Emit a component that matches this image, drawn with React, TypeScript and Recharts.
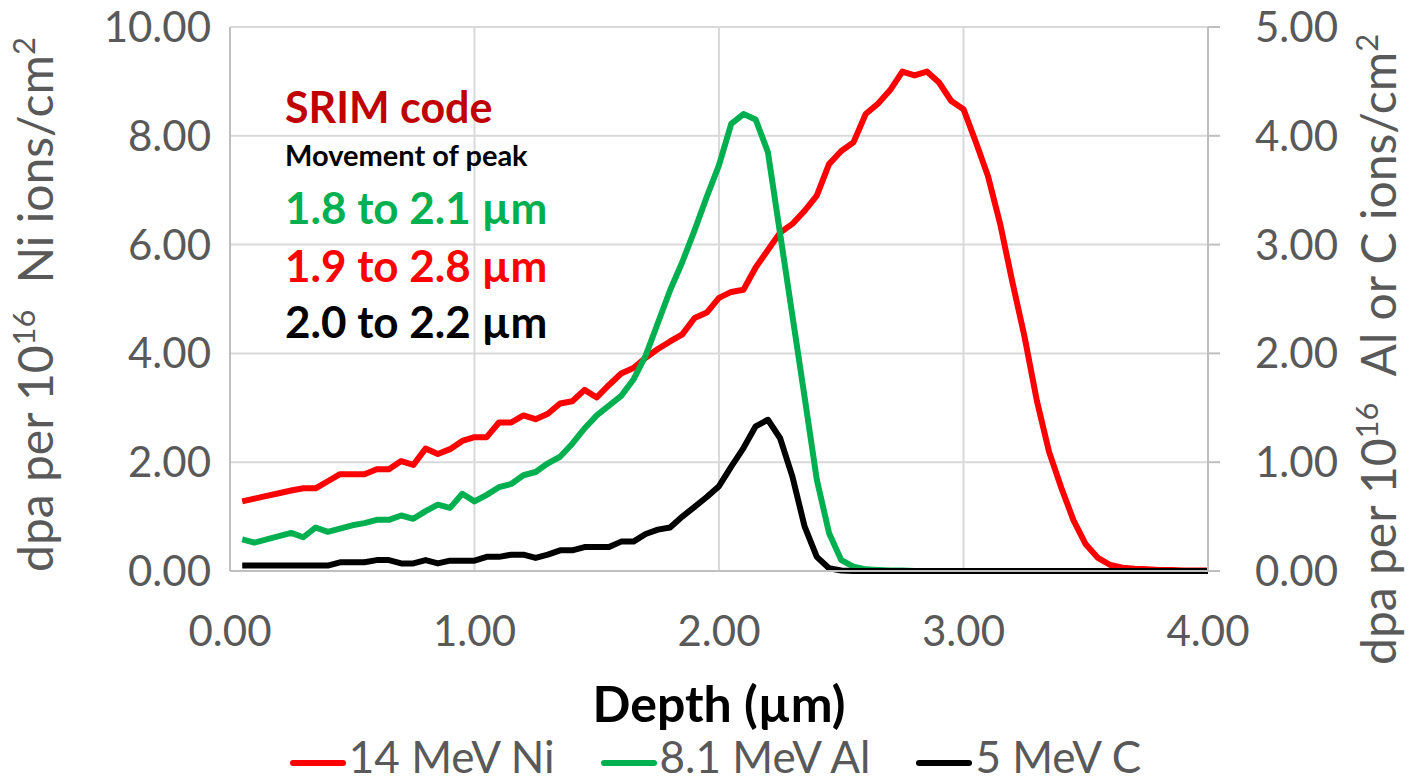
import React from 'react';
import { LineChart, Line, XAxis, YAxis, CartesianGrid } from 'recharts';

const FONT = 'Lato, "Open Sans", sans-serif';
const GREY = '#595959';

// depth in µm, one point every 0.05 µm
const depth = [
  0.05, 0.1, 0.15, 0.2, 0.25, 0.3, 0.35, 0.4, 0.45, 0.5,
  0.55, 0.6, 0.65, 0.7, 0.75, 0.8, 0.85, 0.9, 0.95, 1.0,
  1.05, 1.1, 1.15, 1.2, 1.25, 1.3, 1.35, 1.4, 1.45, 1.5,
  1.55, 1.6, 1.65, 1.7, 1.75, 1.8, 1.85, 1.9, 1.95, 2.0,
  2.05, 2.1, 2.15, 2.2, 2.25, 2.3, 2.35, 2.4, 2.45, 2.5,
  2.55, 2.6, 2.65, 2.7, 2.75, 2.8, 2.85, 2.9, 2.95, 3.0,
  3.05, 3.1, 3.15, 3.2, 3.25, 3.3, 3.35, 3.4, 3.45, 3.5,
  3.55, 3.6, 3.65, 3.7, 3.75, 3.8, 3.85, 3.9, 3.95, 4.0,
];

// 14 MeV Ni (left axis)
const ni = [
  1.28, 1.33, 1.38, 1.43, 1.48, 1.52, 1.52, 1.65, 1.78, 1.78,
  1.78, 1.87, 1.87, 2.02, 1.95, 2.25, 2.15, 2.24, 2.39, 2.46,
  2.46, 2.73, 2.73, 2.86, 2.79, 2.89, 3.08, 3.12, 3.33, 3.19,
  3.42, 3.63, 3.73, 3.92, 4.08, 4.22, 4.35, 4.65, 4.75, 5.02,
  5.13, 5.17, 5.58, 5.9, 6.22, 6.38, 6.62, 6.9, 7.48, 7.72,
  7.88, 8.4, 8.59, 8.84, 9.18, 9.11, 9.18, 8.98, 8.64, 8.49,
  7.89, 7.26, 6.38, 5.31, 4.3, 3.13, 2.19, 1.53, 0.93, 0.49,
  0.24, 0.11, 0.06, 0.04, 0.03, 0.02, 0.02, 0.01, 0.01, 0.01,
];

// 8.1 MeV Al (right axis)
const al = [
  0.29, 0.26, 0.29, 0.32, 0.35, 0.31, 0.4, 0.36, 0.39, 0.42,
  0.44, 0.47, 0.47, 0.51, 0.48, 0.55, 0.61, 0.58, 0.71, 0.64,
  0.7, 0.77, 0.8, 0.88, 0.91, 0.99, 1.05, 1.17, 1.31, 1.43,
  1.52, 1.61, 1.76, 1.98, 2.28, 2.58, 2.84, 3.13, 3.44, 3.73,
  4.11, 4.2, 4.15, 3.85, 3.1, 2.35, 1.6, 0.84, 0.35, 0.1,
  0.04, 0.015, 0.01, 0.005, 0.005, 0, 0, 0, 0, 0,
  0, 0, 0, 0, 0, 0, 0, 0, 0, 0,
  0, 0, 0, 0, 0, 0, 0, 0, 0, 0,
];

// 5 MeV C (right axis)
const c = [
  0.05, 0.05, 0.05, 0.05, 0.05, 0.05, 0.05, 0.05, 0.08, 0.08,
  0.08, 0.1, 0.1, 0.07, 0.07, 0.1, 0.07, 0.095, 0.095, 0.095,
  0.13, 0.13, 0.15, 0.15, 0.12, 0.15, 0.19, 0.19, 0.22, 0.22,
  0.22, 0.27, 0.27, 0.34, 0.38, 0.4, 0.5, 0.59, 0.68, 0.78,
  0.96, 1.13, 1.33, 1.39, 1.22, 0.87, 0.41, 0.13, 0.025, 0.005,
  0, 0, 0, 0, 0, 0, 0, 0, 0, 0,
  0, 0, 0, 0, 0, 0, 0, 0, 0, 0,
  0, 0, 0, 0, 0, 0, 0, 0, 0, 0,
];

const xTicks = [0, 1, 2, 3, 4];
const leftTicks = [0, 2, 4, 6, 8, 10];
const rightTicks = [0, 1, 2, 3, 4, 5];

const series = [
  { key: 'ni', name: '14 MeV Ni', color: '#FF0000', axis: 'left' },
  { key: 'al', name: '8.1 MeV Al', color: '#00B050', axis: 'right' },
  { key: 'c', name: '5 MeV C', color: '#000000', axis: 'right' },
];

const notes = [
  { text: 'SRIM code', color: '#C00000', size: 43, y: 123 },
  { text: 'Movement of peak', color: '#000000', size: 29, y: 166 },
  { text: '1.8 to 2.1 µm', color: '#00B050', size: 44, y: 224 },
  { text: '1.9 to 2.8 µm', color: '#FF0000', size: 44, y: 282 },
  { text: '2.0 to 2.2 µm', color: '#000000', size: 44, y: 338 },
];

const data = depth.map((d, i) => ({ depth: d, ni: ni[i], al: al[i], c: c[i] }));

const fmt = (v: number) => v.toFixed(2);

const tickStyle = { fill: GREY, fontSize: 42, fontFamily: FONT };
const axisLine = { stroke: '#BFBFBF', strokeWidth: 2 };

const axisTitle = (x: number, y: number, tail: string) => (
  <text
    transform={`translate(${x},${y}) rotate(-90)`}
    fill={GREY}
    fontSize={48}
    fontFamily={FONT}
  >
    dpa per 10
    <tspan dy={-18} fontSize={31}>16</tspan>
    <tspan dy={18} dx={26}>{tail}</tspan>
    <tspan dy={-18} fontSize={31}>2</tspan>
  </text>
);

const App: React.FC = () => {
  return (
    <div style={{ position: 'absolute', left: 0, top: 0, width: 1414, height: 782, background: '#fff' }}>
      <LineChart
        width={1414}
        height={782}
        data={data}
        margin={{ top: 27, right: 86, bottom: 151, left: 90 }}
      >
        <CartesianGrid yAxisId="left" stroke="#D9D9D9" strokeWidth={2} />
        <XAxis
          dataKey="depth"
          type="number"
          domain={[0, 4]}
          ticks={xTicks}
          tickFormatter={fmt}
          height={60}
          axisLine={axisLine}
          tickLine={false}
          tickSize={0}
          tickMargin={45}
          tick={tickStyle}
          label={(p: any) => {
            const vb = p.viewBox || { x: 230, y: 571, width: 978 };
            return (
              <text
                x={vb.x + vb.width / 2}
                y={vb.y + 151}
                textAnchor="middle"
                fill="#000"
                fontSize={50}
                fontWeight="bold"
                fontFamily={FONT}
              >
                Depth (µm)
              </text>
            );
          }}
        />
        <YAxis
          yAxisId="left"
          domain={[0, 10]}
          ticks={leftTicks}
          tickFormatter={fmt}
          width={140}
          axisLine={axisLine}
          tickLine={false}
          tickSize={0}
          tickMargin={19}
          tick={tickStyle}
          label={(p: any) => {
            const vb = p.viewBox || { x: 90, y: 27, height: 544 };
            return axisTitle(vb.x - 37, vb.y + vb.height + 1, 'Ni ions/cm');
          }}
        />
        <YAxis
          yAxisId="right"
          orientation="right"
          domain={[0, 5]}
          ticks={rightTicks}
          tickFormatter={fmt}
          width={120}
          axisLine={axisLine}
          tickLine={{ stroke: '#BFBFBF', strokeWidth: 2 }}
          tickSize={12}
          tickMargin={35}
          tick={tickStyle}
          label={(p: any) => {
            const vb = p.viewBox || { x: 1208, y: 27, height: 544 };
            return axisTitle(vb.x + 188, vb.y + vb.height + 94, 'Al or C ions/cm');
          }}
        />
        {series.map((s) => (
          <Line
            key={s.key}
            yAxisId={s.axis}
            type="linear"
            dataKey={s.key}
            name={s.name}
            stroke={s.color}
            strokeWidth={6}
            strokeLinejoin="round"
            dot={false}
            activeDot={false}
            isAnimationActive={false}
          />
        ))}
      </LineChart>

      {/* annotation block, top-left of the plot */}
      <svg
        width={1414}
        height={782}
        style={{ position: 'absolute', left: 0, top: 0, pointerEvents: 'none' }}
      >
        {notes.map((n) => (
          <text
            key={n.text}
            x={285}
            y={n.y}
            fill={n.color}
            fontSize={n.size}
            fontWeight="bold"
            fontFamily={FONT}
          >
            {n.text}
          </text>
        ))}
      </svg>

      {/* legend */}
      <div
        style={{
          position: 'absolute',
          left: 0,
          top: 734,
          width: 1414,
          boxSizing: 'border-box',
          paddingLeft: 17,
          display: 'flex',
          justifyContent: 'center',
          gap: 46,
          fontFamily: FONT,
          fontSize: 44,
          lineHeight: '44px',
          color: GREY,
        }}
      >
        {series.map((s) => (
          <div key={s.key} style={{ display: 'flex', alignItems: 'center' }}>
            <span
              style={{
                display: 'inline-block',
                width: 56,
                height: 6,
                borderRadius: 3,
                background: s.color,
                marginRight: 3,
                marginTop: 14,
              }}
            />
            <span>{s.name}</span>
          </div>
        ))}
      </div>
    </div>
  );
};

export default App;
